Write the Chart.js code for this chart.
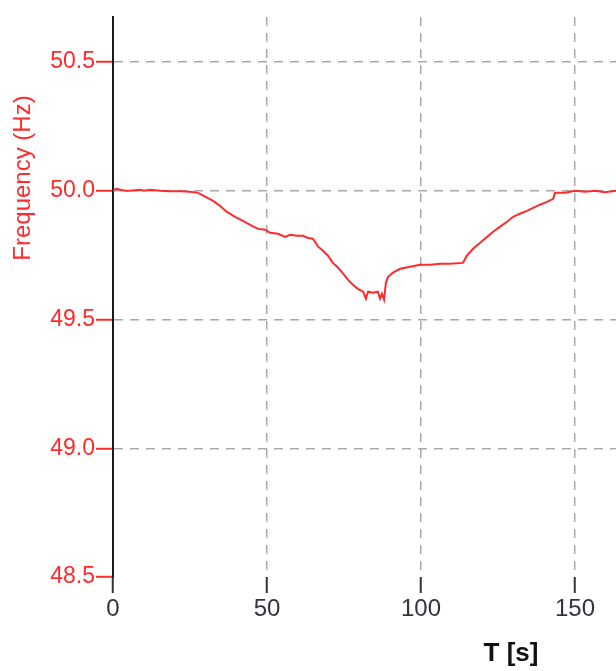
<!DOCTYPE html>
<html>
<head>
<meta charset="utf-8">
<script src="https://cdn.jsdelivr.net/npm/chart.js@4.4.0/dist/chart.umd.min.js"></script>
<style>
  html, body { margin: 0; padding: 0; background: #fff; }
  #wrap { width: 616px; height: 671px; position: relative; }
</style>
</head>
<body>
<div id="wrap"><canvas id="canvas"></canvas></div>
<script>
var times = [0, 1, 2.3, 4, 5.5, 7, 8.8, 10, 12, 13.5, 15.3, 18.5, 22, 25, 27.6, 29.9, 32.5, 34.7, 37, 39.6,
  42.2, 44.5, 47.1, 49.4, 51, 53.6, 55.8, 57.5, 59.7, 61.7, 63.3, 64.9, 66.6, 68.2, 69.8, 71.4,
  73.1, 74.7, 76.3, 77.9, 79.5, 81.2, 82.1, 82.8, 84.4, 86, 86.7, 87.3, 88, 88.6, 89.3, 90.9,
  93.2, 96.4, 99.7, 102.9, 106.2, 109.4, 113.6, 114.9, 116.9, 119.2, 121.4, 123.4, 125.6,
  127.9, 129.9, 132.1, 134.4, 136.4, 138.6, 140.9, 142.9, 143.5, 146.8, 150, 153.2, 156.5,
  159.7, 163.3];
var freq = [50.0, 50.008, 50.004, 50.0, 50.0, 50.002, 50.004, 50.0, 50.004, 50.002, 50.0, 49.998, 49.998, 49.996, 49.992, 49.977, 49.961, 49.942, 49.918, 49.899,
  49.883, 49.868, 49.852, 49.849, 49.837, 49.833, 49.821, 49.829, 49.825, 49.825, 49.817, 49.814, 49.783, 49.767, 49.748, 49.720,
  49.701, 49.678, 49.654, 49.635, 49.619, 49.608, 49.581, 49.608, 49.604, 49.608, 49.581, 49.600, 49.577, 49.643, 49.666, 49.682,
  49.697, 49.705, 49.713, 49.713, 49.717, 49.717, 49.720, 49.748, 49.775, 49.798, 49.821, 49.841, 49.860,
  49.880, 49.899, 49.911, 49.922, 49.934, 49.946, 49.957, 49.969, 49.992, 49.992, 50.0, 49.996, 50.0,
  49.994, 50.0];
var xTicks = [0, 50, 100, 150];
var yTicks = [48.5, 49.0, 49.5, 50.0, 50.5];

var points = [];
for (var i = 0; i < times.length; i++) {
  points.push({ x: times[i], y: freq[i] });
}

var red = "#ff2a2a";
var gridGray = "#a9a9a9";

var axisTitles = {
  id: "axisTitles",
  afterDraw: function (chart) {
    var ctx = chart.ctx;
    ctx.save();
    ctx.fillStyle = red;
    ctx.font = "24px 'Liberation Sans', Arial, sans-serif";
    ctx.textAlign = "center";
    ctx.textBaseline = "middle";
    ctx.translate(23, 178);
    ctx.rotate(-Math.PI / 2);
    ctx.fillText("Frequency (Hz)", 0, 0);
    ctx.restore();

    ctx.save();
    ctx.fillStyle = "#111";
    ctx.font = "bold 26px 'Liberation Sans', Arial, sans-serif";
    ctx.textAlign = "center";
    ctx.textBaseline = "middle";
    ctx.fillText("T [s]", 511, 654);
    ctx.restore();
  }
};

new Chart(document.getElementById("canvas"), {
  type: "line",
  data: {
    datasets: [{
      label: "Frequency",
      data: points,
      borderColor: red,
      borderWidth: 2,
      pointRadius: 0,
      tension: 0,
      fill: false
    }]
  },
  options: {
    responsive: true,
    maintainAspectRatio: false,
    animation: false,
    layout: { padding: { top: 17, right: 0, left: 0, bottom: 0 } },
    plugins: {
      legend: { display: false },
      tooltip: { enabled: false }
    },
    scales: {
      x: {
        type: "linear",
        min: 0,
        max: 163.3,
        afterFit: function (scale) { scale.height = 94; },
        afterBuildTicks: function (scale) {
          scale.ticks = xTicks.map(function (v) { return { value: v }; });
        },
        ticks: {
          includeBounds: false,
          color: "#33333f",
          padding: 2,
          maxRotation: 0,
          font: { family: "'Liberation Sans', Arial, sans-serif", size: 24 }
        },
        grid: {
          color: gridGray,
          lineWidth: 1.5,
          tickLength: 16,
          tickColor: "#333",
          tickWidth: 2,
          tickBorderDash: []
        },
        border: { display: false, dash: [9, 7] }
      },
      y: {
        min: 48.5,
        max: 50.675,
        afterFit: function (scale) { scale.width = 113; },
        afterBuildTicks: function (scale) {
          scale.ticks = yTicks.map(function (v) { return { value: v }; });
        },
        ticks: {
          includeBounds: false,
          color: red,
          padding: 1,
          font: { family: "'Liberation Sans', Arial, sans-serif", size: 23 },
          callback: function (v) { return Number(v).toFixed(1); }
        },
        grid: {
          color: function (c) {
            return (c.tick && c.tick.value === 48.5) ? "rgba(0,0,0,0)" : gridGray;
          },
          lineWidth: 1.5,
          tickLength: 17,
          tickColor: red,
          tickWidth: 2,
          tickBorderDash: []
        },
        border: { display: true, color: "#1a1a1a", width: 2, dash: [9, 7] }
      }
    }
  },
  plugins: [axisTitles]
});
</script>
</body>
</html>
